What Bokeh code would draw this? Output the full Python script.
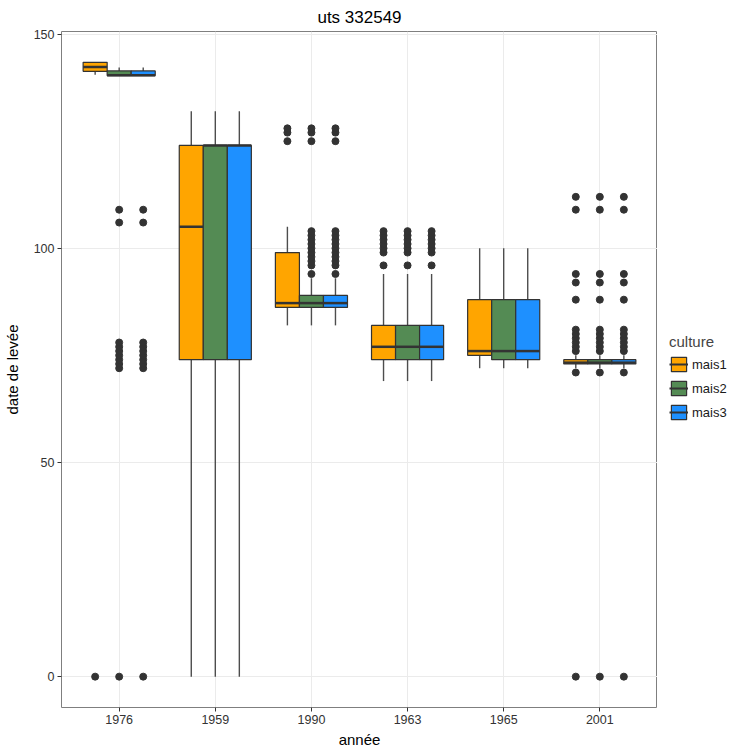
from bokeh.plotting import figure
from bokeh.models import FactorRange, Range1d, ColumnDataSource, Legend, LegendItem
from bokeh.layouts import row
from bokeh.transform import dodge
from bokeh.embed import file_html
from bokeh.resources import INLINE

years = ["1976", "1959", "1990", "1963", "1965", "2001"]
cultures = ["mais1", "mais2", "mais3"]
colors = ["#FFA500", "#548B54", "#1E90FF"]

lower_mais1 = [140.5, 0, 82, 69, 72, 72]
q1_mais1 = [141.3, 74, 86.2, 74, 75, 73]
med_mais1 = [142.3, 105, 87.2, 77, 76, 73.3]
q3_mais1 = [143.4, 124, 99, 82, 88, 74]
upper_mais1 = [143.4, 132, 105, 94, 100, 75]

lower_mais2 = [140.3, 0, 82, 69, 72, 72]
q1_mais2 = [140.3, 74, 86.2, 74, 74, 73]
med_mais2 = [140.4, 124, 87.2, 77, 76, 73.3]
q3_mais2 = [141.4, 124, 89, 82, 88, 74]
upper_mais2 = [142.2, 132, 93, 94, 100, 75]

lower_mais3 = [140.3, 0, 82, 69, 72, 72]
q1_mais3 = [140.3, 74, 86.2, 74, 74, 73]
med_mais3 = [140.4, 124, 87.2, 77, 76, 73.3]
q3_mais3 = [141.4, 124, 89, 82, 88, 74]
upper_mais3 = [142.2, 132, 93, 94, 100, 75]

# outliers per year (same order as years)
outliers_mais1 = [
    [0],
    [],
    [125, 127, 128],
    [96, 99, 100, 101, 102, 103, 104],
    [],
    [0, 71, 76, 77, 78, 79, 80, 81, 88, 92, 94, 109, 112],
]
outliers_mais2 = [
    [0, 72, 73, 74, 75, 76, 77, 78, 106, 109],
    [],
    [94, 96, 97, 98, 99, 100, 101, 102, 103, 104, 125, 127, 128],
    [96, 99, 100, 101, 102, 103, 104],
    [],
    [0, 71, 76, 77, 78, 79, 80, 81, 88, 92, 94, 109, 112],
]
outliers_mais3 = [
    [0, 72, 73, 74, 75, 76, 77, 78, 106, 109],
    [],
    [94, 96, 97, 98, 99, 100, 101, 102, 103, 104, 125, 127, 128],
    [96, 99, 100, 101, 102, 103, 104],
    [],
    [0, 71, 76, 77, 78, 79, 80, 81, 88, 92, 94, 109, 112],
]

stats = {
    "mais1": (lower_mais1, q1_mais1, med_mais1, q3_mais1, upper_mais1, outliers_mais1),
    "mais2": (lower_mais2, q1_mais2, med_mais2, q3_mais2, upper_mais2, outliers_mais2),
    "mais3": (lower_mais3, q1_mais3, med_mais3, q3_mais3, upper_mais3, outliers_mais3),
}
offsets = [-0.25, 0.0, 0.25]
BW = 0.25
FONT = "Liberation Sans"
FW, FH = 596, 676
TOP, BOTTOM, LEFT = 24, 34, 52

p = figure(
    x_range=FactorRange(*years, range_padding=0.2 / 6),
    y_range=Range1d(-7.2, 150.6),
    frame_width=FW, frame_height=FH,
    min_border_left=LEFT, min_border_top=TOP, min_border_bottom=BOTTOM, min_border_right=0,
    output_backend="svg", toolbar_location=None, title="uts 332549",
)

p.title.text_font = FONT
p.title.text_font_size = "17px"
p.title.text_font_style = "normal"
p.title.align = "center"
p.title.text_color = "#000000"

p.outline_line_color = "#7f7f7f"
p.outline_line_width = 1
p.background_fill_color = "white"

for ax in (p.xaxis, p.yaxis):
    ax.axis_line_color = None
    ax.major_tick_line_color = "#333333"
    ax.major_tick_out = 4
    ax.major_tick_in = 0
    ax.minor_tick_line_color = None
    ax.major_label_text_font = FONT
    ax.major_label_text_font_size = "12.5px"
    ax.major_label_text_color = "#333333"
    ax.axis_label_text_font = FONT
    ax.axis_label_text_font_size = "15px"
    ax.axis_label_text_font_style = "normal"
    ax.axis_label_text_color = "#000000"
    ax.major_label_standoff = 3

p.xaxis.axis_label = "année"
p.yaxis.axis_label = "date de levée"
p.xaxis.axis_label_standoff = 4
p.yaxis.axis_label_standoff = 10
p.yaxis.ticker = [0, 50, 100, 150]

p.xgrid.grid_line_color = "#ebebeb"
p.ygrid.grid_line_color = "#ebebeb"

# separate narrow figure holding the legend (to the right of the panel)
leg = figure(
    width=79, height=TOP + FH + BOTTOM,
    x_range=Range1d(0, 1), y_range=Range1d(0, 1),
    x_axis_type=None, y_axis_type=None,
    min_border_left=0, min_border_right=0, min_border_top=0, min_border_bottom=0,
    output_backend="svg", toolbar_location=None,
)
leg.outline_line_color = None
leg.grid.visible = False

items = []
for c, col, off in zip(cultures, colors, offsets):
    lo, q1, med, q3, up, outs = stats[c]
    src = ColumnDataSource(dict(year=years, lower=lo, q1=q1, med=med, q3=q3, upper=up))
    xc = dodge("year", off, range=p.x_range)
    p.segment(x0=xc, y0="q3", x1=xc, y1="upper", source=src,
              line_color="#4d4d4d", line_width=1.4)
    p.segment(x0=xc, y0="lower", x1=xc, y1="q1", source=src,
              line_color="#4d4d4d", line_width=1.4)
    p.vbar(x=xc, width=BW, top="q3", bottom="q1", source=src,
           fill_color=col, line_color="#333333", line_width=1.2)
    p.segment(x0=dodge("year", off - BW / 2, range=p.x_range), y0="med",
              x1=dodge("year", off + BW / 2, range=p.x_range), y1="med",
              source=src, line_color="#333333", line_width=2.5)
    oy, ov = [], []
    for yr, vals in zip(years, outs):
        for v in vals:
            oy.append(yr)
            ov.append(v)
    osrc = ColumnDataSource(dict(year=oy, val=ov))
    p.scatter(x=xc, y="val", source=osrc, size=7, color="#333333")

    # key glyphs for the legend figure (placed off its visible range)
    kb = leg.vbar(x=[5], width=0.1, top=[6], bottom=[5],
                  fill_color=col, line_color="#333333", line_width=1.2)
    km = leg.segment(x0=[5], y0=[5], x1=[6], y1=[5], line_color="#333333", line_width=2)
    items.append(LegendItem(label=c, renderers=[kb, km]))

legend = Legend(items=items, title="culture", location=(12, 270))
legend.title_text_font = FONT
legend.title_text_font_size = "15px"
legend.title_text_font_style = "normal"
legend.label_text_font = FONT
legend.label_text_font_size = "13px"
legend.label_text_color = "#1a1a1a"
legend.glyph_width = 19
legend.glyph_height = 18
legend.spacing = 6
legend.padding = 2
legend.margin = 0
legend.label_standoff = 4
legend.border_line_color = None
legend.background_fill_alpha = 0
leg.add_layout(legend)

layout = row(p, leg)
open("out.html", "w").write(file_html(layout, INLINE))
